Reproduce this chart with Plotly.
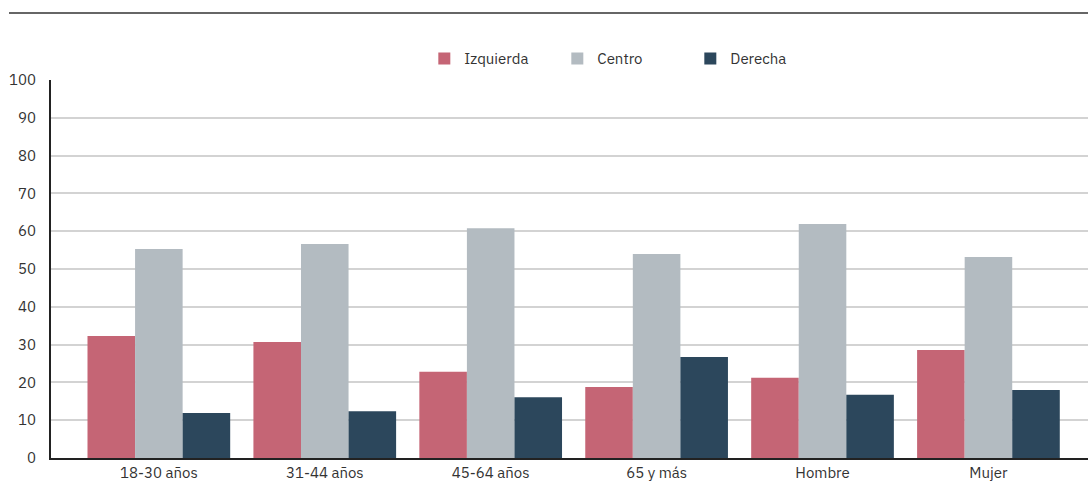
import plotly.graph_objects as go

categories = ["18-30 años", "31-44 años", "45-64 años", "65 y más", "Hombre", "Mujer"]
izquierda = [32.3, 30.7, 22.8, 18.8, 21.2, 28.6]
centro = [55.3, 56.6, 60.8, 54.0, 61.9, 53.2]
derecha = [11.9, 12.4, 16.1, 26.7, 16.7, 18.0]
y_ticks = [0, 10, 20, 30, 40, 50, 60, 70, 80, 90, 100]

colors = {"Izquierda": "#C56575", "Centro": "#B3BBC1", "Derecha": "#2C475C"}

fig = go.Figure()
for name, vals in [("Izquierda", izquierda), ("Centro", centro), ("Derecha", derecha)]:
    fig.add_trace(go.Bar(x=categories, y=vals, name=name, marker_color=colors[name],
                         marker_line_width=0))

font_family = "IBM Plex Sans, Roboto, Noto Sans, sans-serif"
fig.update_layout(
    width=1088, height=490,
    margin=dict(l=51, r=0, t=80, b=32),
    plot_bgcolor="white", paper_bgcolor="white",
    barmode="group", bargap=0.14, bargroupgap=0,
    font=dict(family=font_family, size=15, color="#333333"),
    legend=dict(orientation="h", x=0.360, xanchor="left", y=1.056, yanchor="middle",
                font=dict(size=15, color="#333333"), entrywidth=88, itemwidth=30),
    showlegend=True,
)
fig.update_xaxes(
    type="category", range=[-0.65, 5.6],
    showline=True, linecolor="#222222", linewidth=2,
    showgrid=False, ticks="", tickfont=dict(size=15, color="#333333"),
)
fig.update_yaxes(
    range=[0, 100], tickvals=y_ticks, showline=True, linecolor="#222222", linewidth=2,
    showgrid=True, gridcolor="#d3d3d3", gridwidth=1.5, zeroline=False,
    ticks="", ticklabelstandoff=10, tickfont=dict(size=15, color="#333333"),
)
fig.add_shape(type="line", xref="paper", yref="paper", x0=-0.0405, x1=1.0, y0=1.177, y1=1.177,
              line=dict(color="#333333", width=1.5))
fig.write_html("out.html")
